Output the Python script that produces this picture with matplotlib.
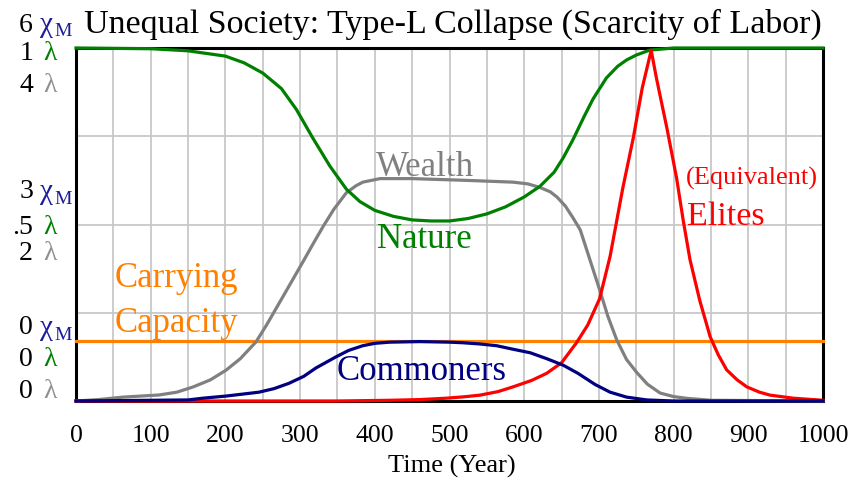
import matplotlib
matplotlib.use('agg')
import matplotlib.pyplot as plt
import numpy as np

plt.rcParams['font.family'] = ['Liberation Serif', 'DejaVu Serif']

# full scale of every axis
CHI_MAX = 6      # chi_M
NAT_MAX = 1      # lambda
WEALTH_MAX = 4   # lambda

# Nature (lambda)
nature_t = [0, 100, 150, 200, 225, 250, 275, 295, 317, 340, 362, 380, 400, 425, 450, 475,
            500, 525, 550, 575, 600, 621, 640, 652, 665, 680, 692, 710, 725, 737, 750, 768,
            800, 1000]
nature = [1.0, 0.998, 0.992, 0.977, 0.958, 0.929, 0.885, 0.826, 0.745, 0.665, 0.600, 0.565,
          0.540, 0.523, 0.513, 0.510, 0.510, 0.517, 0.530, 0.550, 0.578, 0.608, 0.648, 0.688,
          0.739, 0.805, 0.855, 0.915, 0.948, 0.966, 0.980, 0.994, 1.0, 1.0]

# Wealth (lambda)
wealth_t = [0, 30, 63, 111, 135, 157, 180, 201, 220, 241, 255, 268, 285, 304, 318, 331, 345,
            362, 375, 384, 407, 450, 523, 585, 605, 621, 635, 644, 655, 665, 675, 688, 701,
            712, 724, 737, 751, 765, 782, 800, 818, 850, 1000]
wealth = [0, 0.016, 0.044, 0.068, 0.10, 0.16, 0.24, 0.35, 0.48, 0.67, 0.86, 1.05, 1.30, 1.58,
          1.79, 1.98, 2.17, 2.36, 2.44, 2.48, 2.52, 2.52, 2.50, 2.48, 2.46, 2.42, 2.37, 2.31,
          2.21, 2.08, 1.94, 1.60, 1.26, 0.96, 0.69, 0.47, 0.32, 0.19, 0.09, 0.05, 0.03,
          0.008, 0]

# Commoners (chi_M)
comm_t = [0, 150, 170, 201, 245, 265, 285, 305, 321, 348, 365, 384, 400, 420, 460, 500, 518,
          540, 563, 585, 608, 630, 652, 672, 695, 715, 737, 764, 800, 1000]
commoners = [0, 0.018, 0.048, 0.084, 0.15, 0.21, 0.30, 0.42, 0.56, 0.75, 0.86, 0.94, 0.98,
             1.0, 1.01, 1.0, 0.99, 0.97, 0.94, 0.88, 0.82, 0.72, 0.61, 0.47, 0.28, 0.15,
             0.066, 0.018, 0, 0]

# Elites, equivalent (chi_M)
elite_t = [0, 350, 420, 460, 496, 520, 541, 565, 585, 610, 630, 650, 670, 685, 701, 715, 732,
           746, 758, 770, 777, 791, 804, 813, 822, 835, 849, 860, 871, 885, 898, 915, 929,
           960, 1000]
elites = [0, 0, 0.012, 0.024, 0.048, 0.072, 0.10, 0.16, 0.24, 0.35, 0.47, 0.65, 0.99, 1.29,
          1.74, 2.46, 3.62, 4.47, 5.32, 5.96, 5.49, 4.64, 3.79, 3.06, 2.40, 1.71, 1.09, 0.78,
          0.53, 0.36, 0.24, 0.15, 0.10, 0.048, 0.012]

# Carrying capacity (chi_M)
cap_t = [0, 1000]
capacity = [1.02, 1.02]

W, H = 858, 480


def px(x, y):
    # pixel -> figure fraction
    return x / W, 1 - y / H


fig = plt.figure(figsize=(W / 100, H / 100), dpi=100)
ax = fig.add_axes([76 / W, 79 / H, 747 / W, 353 / H])
ax.set_xlim(0, 1000)
ax.set_ylim(0, 1)
ax.set_xticks(range(0, 1001, 100))
ax.set_xticks(range(0, 1001, 50), minor=True)
ax.set_yticks([0, 0.25, 0.5, 0.75, 1])
ax.set_yticklabels([])
ax.grid(which='both', color='#c8c8c8', lw=1.3, zorder=0)
ax.set_axisbelow(True)
ax.tick_params(which='both', length=0)
ax.tick_params(axis='x', labelsize=18.5, pad=17)
for s in ax.spines.values():
    s.set_linewidth(2.2)
    s.set_color('black')

kw = dict(lw=2.3, clip_on=False, zorder=3)
ax.plot(cap_t, np.array(capacity) / CHI_MAX, color='#ff8000', **kw)
ax.plot(wealth_t, np.array(wealth) / WEALTH_MAX, color='#808080', **kw)
ax.plot(nature_t, np.array(nature) / NAT_MAX, color='#008000', **kw)
ax.plot(elite_t, np.array(elites) / CHI_MAX, color='#ff0000', **kw)
ax.plot(comm_t, np.array(commoners) / CHI_MAX, color='#000080', **kw)

# curve labels
ax.text(467, 0.637, 'Wealth', color='#808080', fontsize=25, ha='center', va='baseline')
ax.text(467, 0.433, 'Nature', color='#008000', fontsize=25, ha='center', va='baseline')
ax.text(52, 0.323, 'Carrying', color='#ff8000', fontsize=25, va='baseline')
ax.text(52, 0.195, 'Capacity', color='#ff8000', fontsize=25, va='baseline')
ax.text(349, 0.059, 'Commoners', color='#000080', fontsize=25, va='baseline')
ax.text(817, 0.612, '(Equivalent)', color='#ff0000', fontsize=19, va='baseline')
ax.text(818, 0.499, 'Elites', color='#ff0000', fontsize=24.5, va='baseline')

fig.text(*px(453, 33), 'Unequal Society: Type-L Collapse (Scarcity of Labor)',
         fontsize=24.5, ha='center', va='baseline')
fig.text(*px(452, 473), 'Time (Year)', fontsize=19, ha='center', va='baseline')


def fmt(v):
    s = f'{v:g}'
    return s[1:] if s.startswith('0.') else s


# left scale labels: chi_M, lambda (nature), lambda (wealth)
rows = [(1.0, [25, 54, 86]), (0.5, [192, 227, 253]), (0.0, [328, 360, 392])]
for frac, ys in rows:
    vals = [fmt(CHI_MAX * frac), fmt(NAT_MAX * frac), fmt(WEALTH_MAX * frac)]
    for v, y in zip(vals, ys):
        fig.text(*px(33, y), v, fontsize=20, ha='right', va='center')
    fig.text(*px(40, ys[0]), 'χ', fontsize=21, color='#1c1c9c', va='center')
    fig.text(*px(54, ys[0] + 7), 'M', fontsize=14, color='#1c1c9c', va='center')
    fig.text(*px(43, ys[1]), 'λ', fontsize=20, color='#008000', va='center')
    fig.text(*px(43, ys[2]), 'λ', fontsize=20, color='#909090', va='center')

fig.savefig('out.png', dpi=100)
